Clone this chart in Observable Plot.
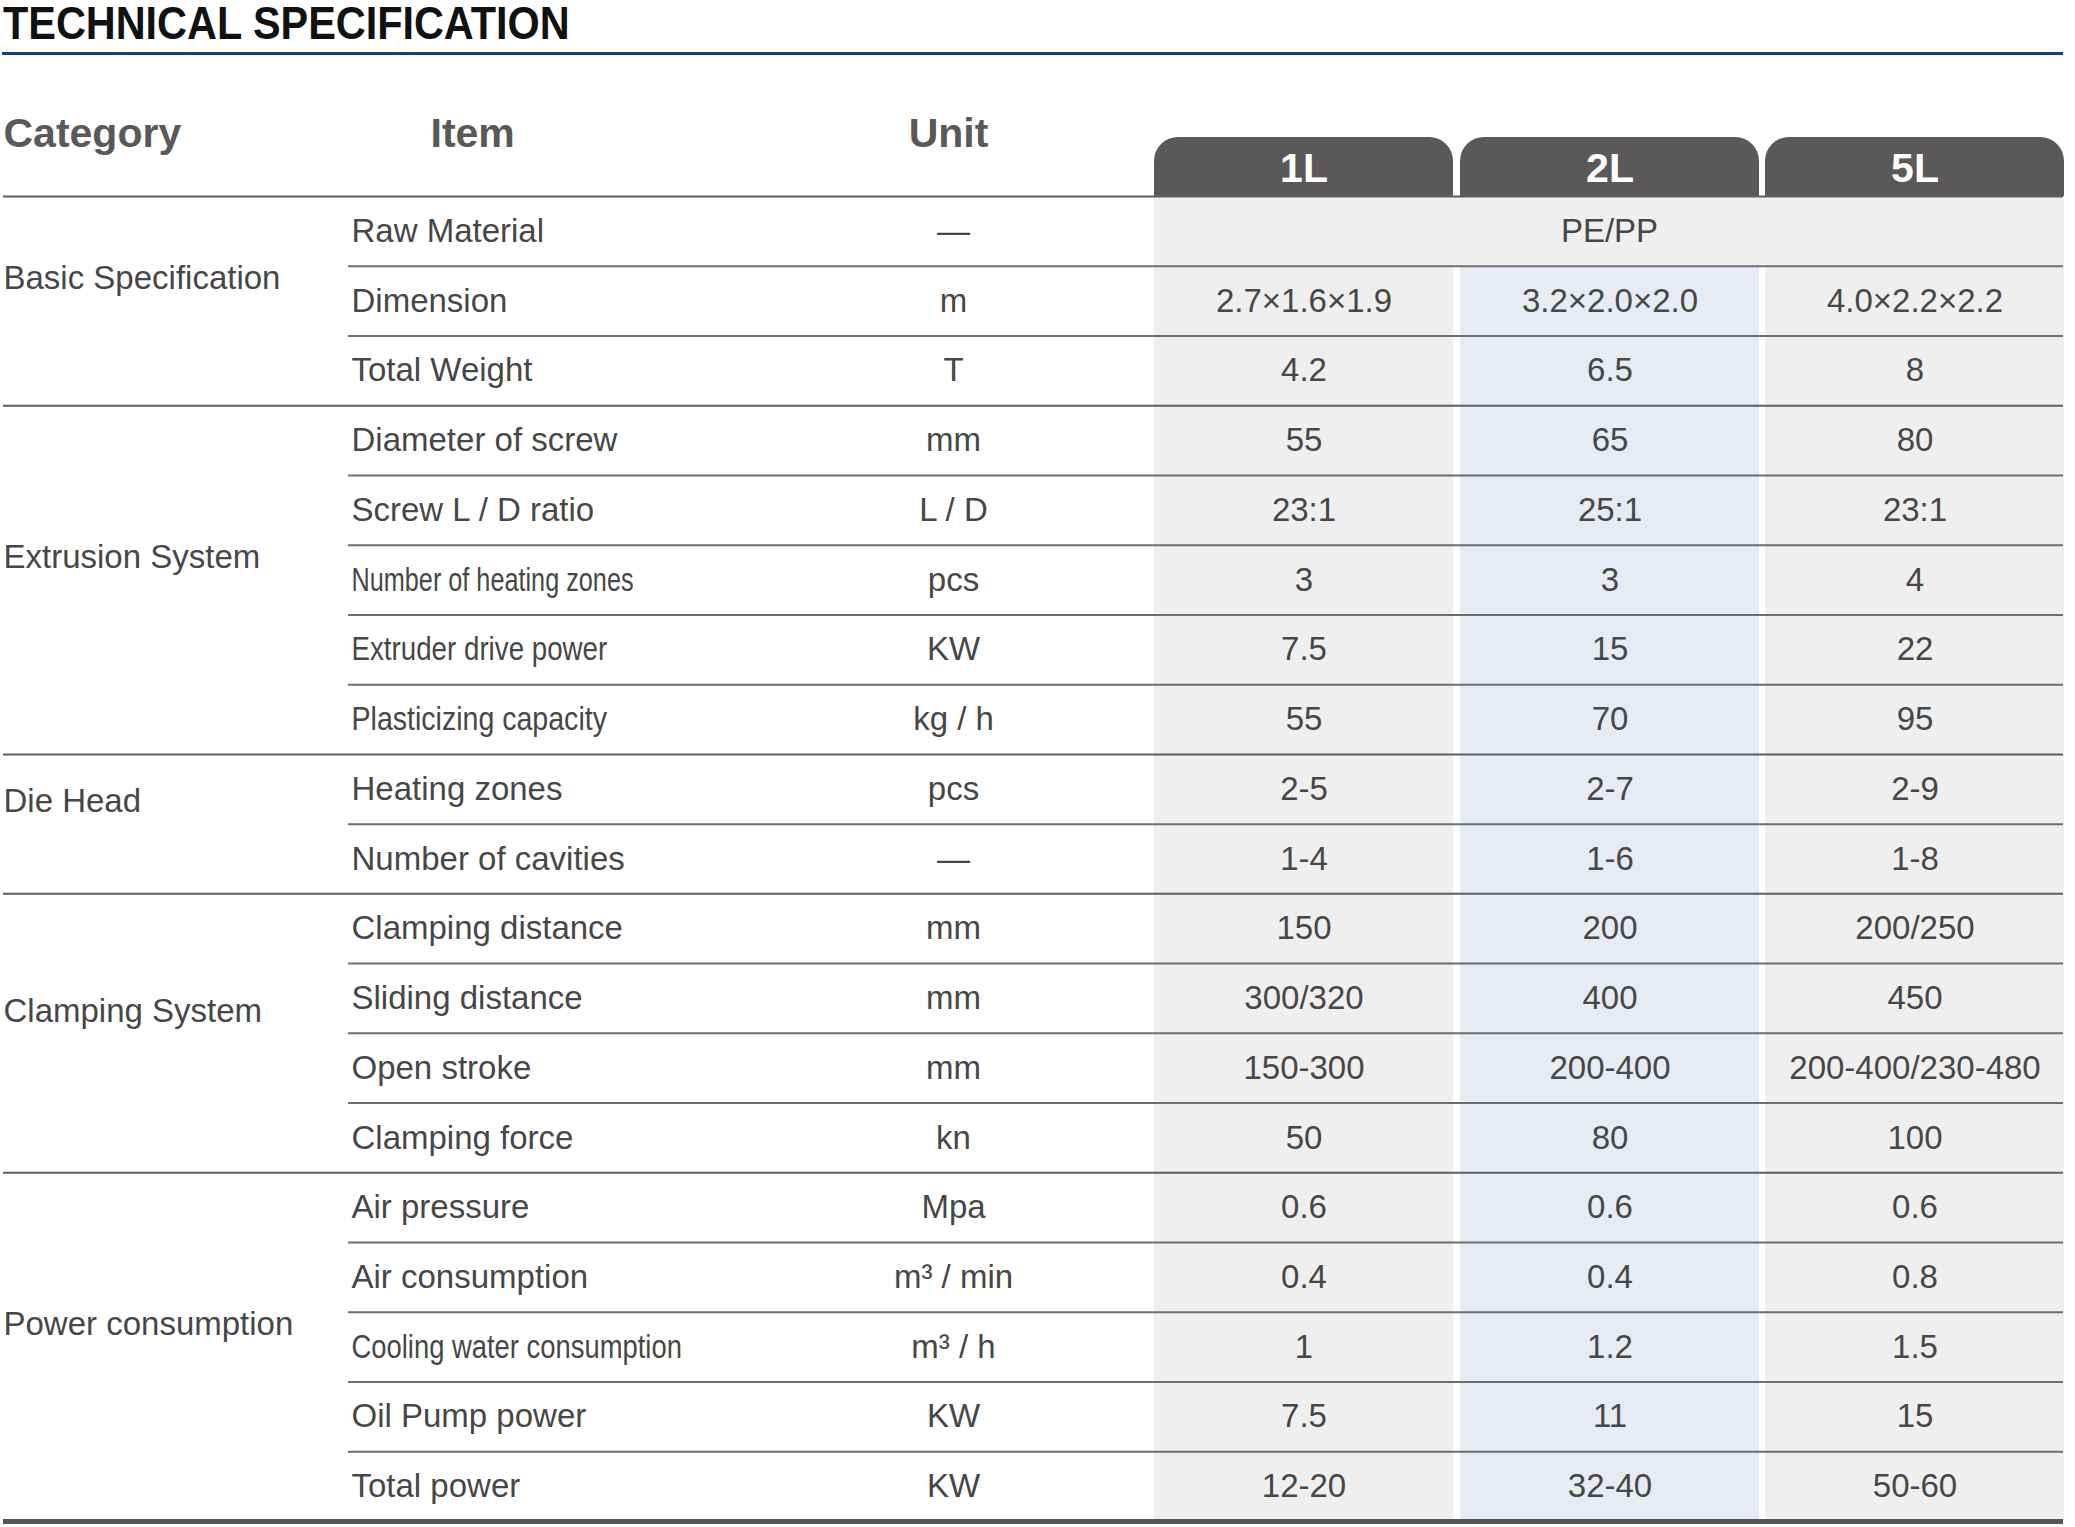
<!DOCTYPE html>
<html><head><meta charset="utf-8">
<script src="https://cdn.jsdelivr.net/npm/d3@7"></script>
<script src="https://cdn.jsdelivr.net/npm/@observablehq/plot@0.6"></script>
<style>
html,body{margin:0;padding:0;background:#fff;}
#title{position:relative;height:55px;width:2061px;margin-left:2px;border-bottom:3px solid #1d3a8a;box-sizing:border-box;}
#title span{position:absolute;left:1px;top:0px;font:bold 46px/46px "Liberation Sans",Arial,sans-serif;color:#111;white-space:nowrap;transform:scaleX(0.9);transform-origin:0 0;}
#chart{line-height:0;}
</style></head>
<body>
<div id="title"><span>TECHNICAL SPECIFICATION</span></div>
<div id="chart"></div>
<script>
// ---------- data ----------
const headers = ["Category", "Item", "Unit"];
const models = ["1L", "2L", "5L"];
const categories = ["Basic Specification", "Extrusion System", "Die Head", "Clamping System", "Power consumption"];
const groupSizes = [3, 5, 2, 4, 5];
const items = [
  "Raw Material", "Dimension", "Total Weight",
  "Diameter of screw", "Screw L / D ratio", "Number of heating zones", "Extruder drive power", "Plasticizing capacity",
  "Heating zones", "Number of cavities",
  "Clamping distance", "Sliding distance", "Open stroke", "Clamping force",
  "Air pressure", "Air consumption", "Cooling water consumption", "Oil Pump power", "Total power"
];
const units = [
  "—", "m", "T",
  "mm", "L / D", "pcs", "KW", "kg / h",
  "pcs", "—",
  "mm", "mm", "mm", "kn",
  "Mpa", "m³ / min", "m³ / h", "KW", "KW"
];
const values1L = ["PE/PP", "2.7×1.6×1.9", "4.2", "55", "23:1", "3", "7.5", "55", "2-5", "1-4", "150", "300/320", "150-300", "50", "0.6", "0.4", "1", "7.5", "12-20"];
const values2L = ["PE/PP", "3.2×2.0×2.0", "6.5", "65", "25:1", "3", "15", "70", "2-7", "1-6", "200", "400", "200-400", "80", "0.6", "0.4", "1.2", "11", "32-40"];
const values5L = ["PE/PP", "4.0×2.2×2.2", "8", "80", "23:1", "4", "22", "95", "2-9", "1-8", "200/250", "450", "200-400/230-480", "100", "0.6", "0.8", "1.5", "15", "50-60"];
const mergedRows = [0];
const condensedItems = ["Number of heating zones", "Extruder drive power", "Plasticizing capacity", "Cooling water consumption"];

// ---------- layout / style (not data) ----------
const condenseFactor = {"Number of heating zones": 0.765, "Extruder drive power": 0.84, "Plasticizing capacity": 0.865, "Cooling water consumption": 0.83};
const W = 2075, H = 1472;
const nRows = items.length;
const xCat = 3, xItem = 351, xItemHeader = 430, xUnit = 953, xUnitHeader = 948, xLeft = 3, xRight = 2063, xRule = 348;
const bands = {"1L": [1154, 1453], "2L": [1460, 1759], "5L": [1765, 2064]};
const bandFill = {"1L": "#efefef", "2L": "#e7ebf3", "5L": "#efefef"};
const valueCols = {"1L": values1L, "2L": values2L, "5L": values5L};
const center = m => (bands[m][0] + bands[m][1]) / 2;
const textColor = "#474747";

// groups
let s = 0;
const groups = categories.map((name, k) => {
  const g = {name, start: s, end: s + groupSizes[k]};
  s += groupSizes[k];
  return g;
});
const groupBounds = [0, ...groups.map(g => g.end)];
const itemBounds = d3.range(1, nRows).filter(b => !groupBounds.includes(b));
const rows = items.map((item, i) => ({i, item, unit: units[i]}));

const cells = [];
rows.forEach(({i}) => {
  if (mergedRows.includes(i)) cells.push({i, x: (bands["1L"][0] + bands["5L"][1]) / 2, v: values1L[i]});
  else models.forEach(m => cells.push({i, x: center(m), v: valueCols[m][i]}));
});

const svg = Plot.plot({
  width: W, height: H, margin: 0,
  x: {domain: [0, W], range: [0, W], axis: null},
  y: {domain: [0, nRows], range: [141, 1466], axis: null},
  style: {fontFamily: '"Liberation Sans", Arial, sans-serif', background: "#fff", overflow: "visible"},
  marks: [
    // header tabs (rounded top)
    Plot.rect(models, {x1: m => bands[m][0], x2: m => bands[m][1], y1: () => -0.847, y2: () => 0.5, fill: "#5a5858", rx: 24}),
    // column bands
    Plot.rect(models, {x1: m => bands[m][0], x2: m => bands[m][1], y1: () => 0, y2: () => nRows, fill: m => bandFill[m]}),
    // merged row
    Plot.rect(mergedRows, {x1: () => bands["1L"][0], x2: () => bands["5L"][1], y1: i => i, y2: i => i + 1, fill: "#efefef"}),
    // rules
    Plot.ruleY(itemBounds, {y: d => d, x1: () => xRule, x2: () => xRight, stroke: "#6e6e6e", strokeWidth: 2}),
    Plot.ruleY(groupBounds.slice(0, -1), {y: d => d, x1: () => xLeft, x2: () => xRight, stroke: "#5e5e5e", strokeWidth: 2}),
    Plot.ruleY([nRows], {y: d => d, x1: () => xLeft, x2: () => xRight, stroke: "#555", strokeWidth: 5}),
    // headers
    Plot.text(headers.slice(0, 2), {x: (d, k) => k === 0 ? xCat : xItemHeader, y: () => -0.703, text: d => d, textAnchor: "start", lineAnchor: "bottom", fontSize: 41, fontWeight: "bold", fill: "#595959"}),
    Plot.text(headers.slice(2), {x: () => xUnitHeader, y: () => -0.703, text: d => d, textAnchor: "middle", lineAnchor: "bottom", fontSize: 41, fontWeight: "bold", fill: "#595959"}),
    Plot.text(models, {x: m => center(m), y: () => -0.215, text: d => d, textAnchor: "middle", lineAnchor: "bottom", fontSize: 41, fontWeight: "bold", fill: "#fff"}),
    // category labels
    Plot.text(groups, {x: () => xCat, y: g => (g.start + g.end) / 2 - 0.32, text: "name", textAnchor: "start", lineAnchor: "middle", fontSize: 33, fill: textColor}),
    // items
    Plot.text(rows, {x: () => xItem, y: r => r.i + 0.5, text: "item", textAnchor: "start", lineAnchor: "middle", fontSize: 33, fill: textColor}),
    // units
    Plot.text(rows, {x: () => xUnit, y: r => r.i + 0.5, text: "unit", textAnchor: "middle", lineAnchor: "middle", fontSize: 33, fill: textColor}),
    // values
    Plot.text(cells, {x: "x", y: c => c.i + 0.5, text: "v", textAnchor: "middle", lineAnchor: "middle", fontSize: 33, fill: textColor})
  ]
});
document.getElementById("chart").append(svg);
// condensed item labels (narrow face as in the reference)
svg.querySelectorAll("text").forEach(t => {
  if (condensedItems.includes(t.textContent)) {
    const w = t.getComputedTextLength();
    t.setAttribute("textLength", w * condenseFactor[t.textContent]);
    t.setAttribute("lengthAdjust", "spacingAndGlyphs");
  }
});
</script>
</body></html>
